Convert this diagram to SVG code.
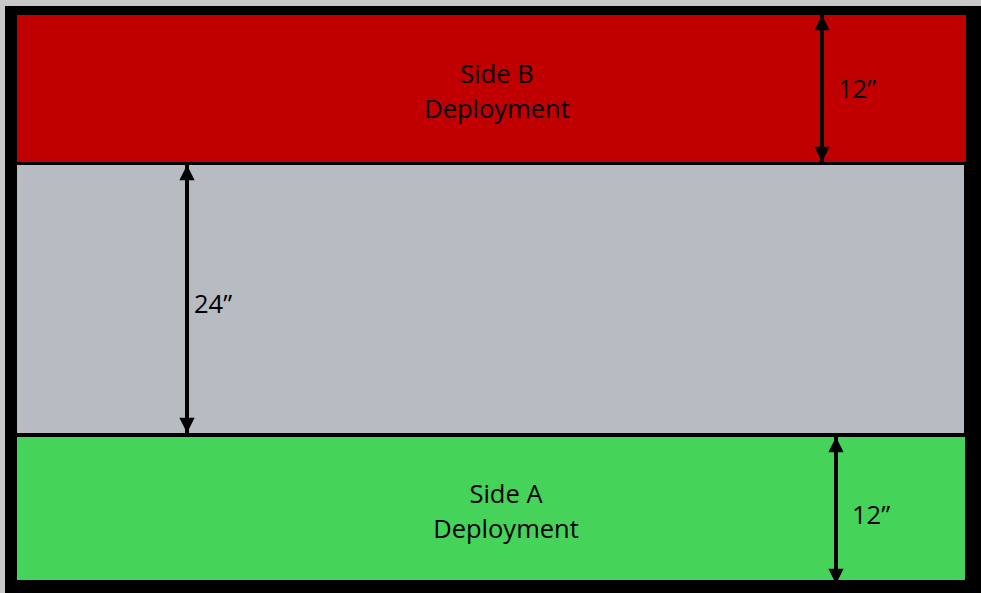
<svg xmlns="http://www.w3.org/2000/svg" width="981" height="593" viewBox="0 0 981 593">
<defs>
<style>
.lbl{font-family:"Open Sans","Noto Sans","Liberation Sans",sans-serif;font-size:25.5px;fill:#000}
.c{text-anchor:middle}
.dim{stroke:#000;stroke-width:4;fill:none}
</style>
<marker id="ah" viewBox="0 0 10 10" refX="10" refY="5" markerWidth="4" markerHeight="3.8" orient="auto-start-reverse" markerUnits="strokeWidth">
<path d="M0,0 L10,5 L0,10 z" fill="#000"/>
</marker>
</defs>
<rect x="0" y="0" width="981" height="593" fill="#c9c9c7"/>
<rect x="5" y="6" width="976" height="587" fill="#000"/>
<g id="sideB">
<rect x="17" y="15" width="949" height="147" fill="#c00000"/>
<text class="lbl c" x="497" y="83">Side B</text>
<text class="lbl c" x="497" y="118">Deployment</text>
</g>
<g id="middle">
<rect x="17" y="165" width="947" height="268" fill="#b6bcc2"/>
</g>
<g id="sideA">
<rect x="17" y="437" width="948" height="143" fill="#46d35a"/>
<text class="lbl c" x="506" y="503">Side A</text>
<text class="lbl c" x="506" y="538">Deployment</text>
</g>
<g id="connectors">
<line class="dim" x1="822" y1="15" x2="822" y2="162" marker-start="url(#ah)" marker-end="url(#ah)"/>
<line class="dim" x1="187" y1="165" x2="187" y2="433" marker-start="url(#ah)" marker-end="url(#ah)"/>
<line class="dim" x1="836" y1="437" x2="836" y2="584" marker-start="url(#ah)" marker-end="url(#ah)"/>
</g>
<text class="lbl" x="838" y="98">12”</text>
<text class="lbl" x="194" y="313">24”</text>
<text class="lbl" x="852" y="524">12”</text>
</svg>
